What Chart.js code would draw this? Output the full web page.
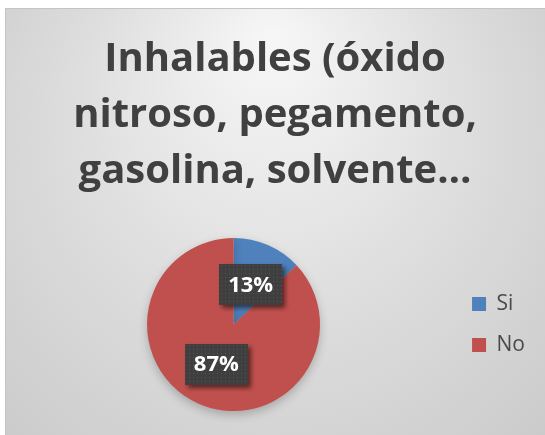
<!DOCTYPE html>
<html>
<head>
<meta charset="utf-8">
<script src="https://cdn.jsdelivr.net/npm/chart.js@4/dist/chart.umd.min.js"></script>
<style>
  html, body { margin: 0; padding: 0; background: #fff; }
  #wrap { width: 545px; height: 435px; }
</style>
</head>
<body>
<div id="wrap"><canvas id="chart" width="545" height="435"></canvas></div>
<script>
// Inhalables pie

const labels = ['Si', 'No'];
const values = [13, 87];
const colors = ['#4f81bd', '#c0504d'];
const titleLines = ['Inhalables (óxido', 'nitroso, pegamento,', 'gasolina, solvente…'];

// ---------- Background panel ----------
const panelBg = {
    id: 'panelBg',
    beforeDraw(chart) {
        const ctx = chart.ctx;
        ctx.save();
        ctx.fillStyle = '#fff';
        ctx.fillRect(0, 0, chart.width, chart.height);
        const g = ctx.createRadialGradient(272, 40, 10, 272, 200, 420);
        g.addColorStop(0, '#f6f6f6');
        g.addColorStop(0.45, '#dedede');
        g.addColorStop(1, '#c6c6c6');
        ctx.fillStyle = g;
        ctx.fillRect(5, 8, chart.width - 5, chart.height - 8);
        ctx.strokeStyle = '#c4c4c4';
        ctx.lineWidth = 1;
        ctx.beginPath();
        ctx.moveTo(5.5, chart.height);
        ctx.lineTo(5.5, 8.5);
        ctx.lineTo(chart.width, 8.5);
        ctx.stroke();
        ctx.restore();
    }
};

// ---------- Pie shadow ----------
const pieShadow = {
    id: 'pieShadow',
    beforeDatasetsDraw(chart) {
        const ctx = chart.ctx;
        ctx.save();
        ctx.shadowColor = 'rgba(0,0,0,0.22)';
        ctx.shadowBlur = 10;
        ctx.shadowOffsetY = 4;
    },
    afterDatasetsDraw(chart) {
        chart.ctx.restore();
    }
};

// ---------- Data labels (dark dotted boxes) ----------
function dotPattern(ctx) {
    const c = document.createElement('canvas');
    c.width = 4; c.height = 4;
    const p = c.getContext('2d');
    p.fillStyle = '#3f3f3f';
    p.fillRect(0, 0, 4, 4);
    p.fillStyle = '#555';
    p.fillRect(1, 1, 1, 1);
    return ctx.createPattern(c, 'repeat');
}

const pctLabels = {
    id: 'pctLabels',
    afterDraw(chart) {
        const ctx = chart.ctx;
        const meta = chart.getDatasetMeta(0);
        const total = values.reduce((a, b) => a + b, 0);
        const pat = dotPattern(ctx);
        meta.data.forEach((arc, i) => {
            const pos = arc.tooltipPosition();
            const w = 63, h = 41;
            const x = Math.round(pos.x - w / 2), y = Math.round(pos.y - h / 2);
            ctx.save();
            ctx.shadowColor = 'rgba(0,0,0,0.55)';
            ctx.shadowBlur = 5;
            ctx.shadowOffsetX = 3;
            ctx.shadowOffsetY = 3;
            ctx.fillStyle = pat;
            ctx.fillRect(x, y, w, h);
            ctx.restore();
            ctx.save();
            ctx.fillStyle = '#fff';
            ctx.font = 'bold 22px "Open Sans"';
            ctx.textAlign = 'center';
            ctx.textBaseline = 'middle';
            ctx.fillText(Math.round(values[i] / total * 100) + '%', pos.x, pos.y + 1);
            ctx.restore();
        });
    }
};

new Chart(document.getElementById('chart'), {
    type: 'pie',
    data: {
        labels: labels,
        datasets: [{
            data: values,
            backgroundColor: colors,
            borderWidth: 0
        }]
    },
    options: {
        responsive: false,
        animation: false,
        layout: { padding: { left: 15, right: 10, top: 0, bottom: 24 } },
        plugins: {
            tooltip: { enabled: false },
            title: {
                display: true,
                text: titleLines,
                color: '#404040',
                font: { family: '"Open Sans"', size: 40, weight: 'bold', lineHeight: 1.4 },
                padding: { top: 32, bottom: 38 }
            },
            legend: {
                position: 'right',
                fullSize: false,
                labels: {
                    boxWidth: 14,
                    boxHeight: 14,
                    padding: 20,
                    color: '#4a4a4a',
                    font: { family: '"Open Sans"', size: 21 }
                }
            }
        }
    },
    plugins: [panelBg, pieShadow, pctLabels]
});
</script>
</body>
</html>
